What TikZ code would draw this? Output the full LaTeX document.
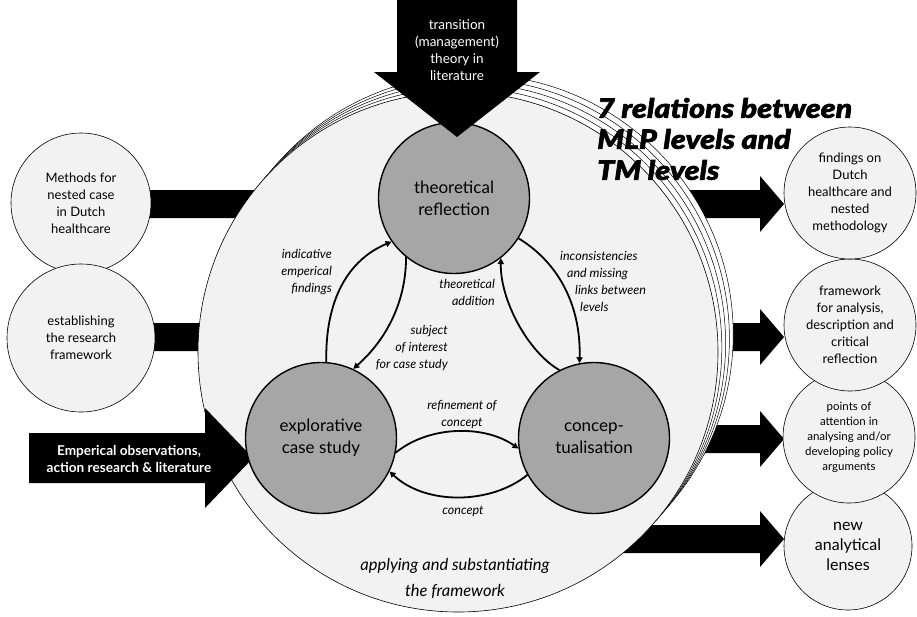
\documentclass[tikz,border=0pt]{standalone}
\usepackage{fontspec}
\setmainfont{Lato}
\newfontfamily\titlefont{Lato Black Italic}[FakeBold=2.4, FakeStretch=1.15]
\usetikzlibrary{arrows.meta}
\definecolor{paper}{HTML}{F2F2F2}
\definecolor{stagegray}{HTML}{A6A6A6}

\tikzset{
  outcome/.style={circle, draw=black, line width=0.6pt, fill=paper,
    minimum size=#1, inner sep=0pt, align=center,
    font=\fontsize{13}{17}\selectfont},
  stagenode/.style={circle, draw=black, line width=1.4pt, fill=stagegray,
    minimum size=151pt, inner sep=0pt, align=center,
    font=\fontsize{17}{22}\selectfont},
  flow/.style={line width=1.8pt, -{Triangle[length=6pt,width=6pt]}},
  note/.style={font=\fontsize{12.5}{17}\selectfont\itshape, inner sep=0pt},
  block/.style={fill=black},
  blocktext/.style={text=white, align=center, inner sep=0pt},
}

% right-pointing block arrow: start x, centre y
\newcommand\rblock[2]{%
  \fill[block] (#1,#2-14) -- (760,#2-14) -- (760,#2-28) -- (784,#2)
    -- (760,#2+28) -- (760,#2+14) -- (#1,#2+14) -- cycle;}

\begin{document}
\begin{tikzpicture}[x=1pt,y=-1pt]
\useasboundingbox (0,0) rectangle (917,616);

% block arrows running behind the central disc
\rblock{140}{204}
\rblock{140}{337}
\rblock{500}{439}
\rblock{500}{539}

% input circles on the left
\node[outcome=140pt] (methods) at (81,203) {Methods for\\nested case\\in Dutch\\healthcare};
\node[outcome=148pt] (establish) at (81,338) {establishing\\the research\\framework};

% stacked discs of the framework
\foreach \k in {4,3,2,1}
  \draw[fill=white, line width=0.5pt] (458+3.8*\k, 352-4.4*\k) circle[radius=260pt];
\draw[fill=paper, line width=0.6pt] (458,352) circle[radius=260pt];

% input arrow at the lower left
\fill[block] (29,433) -- (205,433) -- (205,408) -- (253,458) -- (205,508)
  -- (205,483) -- (29,483) -- cycle;
\node[blocktext, font=\fontsize{13.6}{17}\selectfont\bfseries] (empirical) at (129,459)
  {Emperical observations,\\action research \& literature};

% outcome circles on the right
\node[outcome=128pt, font=\fontsize{16}{20}\selectfont] (lenses) at (848,546) {new\\analytical\\lenses};
\node[outcome=132pt, font=\fontsize{11.5}{15}\selectfont] (points) at (849,437)
  {points of\\attention in\\analysing and/or\\developing policy\\arguments};
\node[outcome=132pt] (framework) at (850,325)
  {framework\\for analysis,\\description and\\critical\\reflection};
\node[outcome=132pt] (findings) at (850,193)
  {findings on\\Dutch\\healthcare and\\nested\\methodology};

% the three research stages
\node[stagenode] (th) at (454,198) {theoretical\\reflection};
\node[stagenode] (ex) at (321,438) {explorative\\case study};
\node[stagenode] (co) at (594,438) {concep-\\tualisation};

% relations between the stages
\draw[flow] (ex.86) .. controls (325,300) and (348,260) .. (th.215);
\draw[flow] (th.231) .. controls (406,300) and (388,338) .. (ex.65);
\draw[flow] (co.117) .. controls (528,352) and (500,300) .. (th.-52);
\draw[flow] (th.-32) .. controls (562,265) and (581,310) .. (co.101);
\draw[flow] (ex.-11) .. controls (430,425) and (485,425) .. (co.188);
\draw[flow] (co.209) .. controls (490,505) and (425,505) .. (ex.-26);

\node[note, align=right, anchor=east] (indicative) at (332,272)
  {indicative\\emperical\\findings};
\node[note, align=right, anchor=east] (subject) at (448,348)
  {subject\\of interest\\for case study};
\node[note, align=right, anchor=east] (addition) at (495,292)
  {theoretical\\addition};
\node[note, align=left, anchor=west] (inconsist) at (560,281)
  {inconsistencies\\\hspace*{7pt}and missing\\\hspace*{15pt}links between\\\hspace*{20pt}levels};
\node[note, align=center] (refine) at (462,414) {refinement of\\concept};
\node[note] (concept) at (463,511) {concept};

\node[font=\fontsize{16.5}{26}\selectfont\itshape, align=center, inner sep=0pt] (applying)
  at (455,578) {applying and substantiating\\the framework};

% theory input arrow at the top
\fill[block] (397,-2) -- (517,-2) -- (517,72) -- (540,72) -- (457,137)
  -- (374,72) -- (397,72) -- cycle;
\node[blocktext, font=\fontsize{13.5}{17}\selectfont] (theory) at (457,50)
  {transition\\(management)\\theory in\\literature};

% heading
\node[font=\titlefont\fontsize{26.5}{31}\selectfont, align=left, anchor=west, inner sep=0pt]
  (heading) at (597,139) {7 relations between\\MLP levels and\\TM levels};
\end{tikzpicture}
\end{document}
